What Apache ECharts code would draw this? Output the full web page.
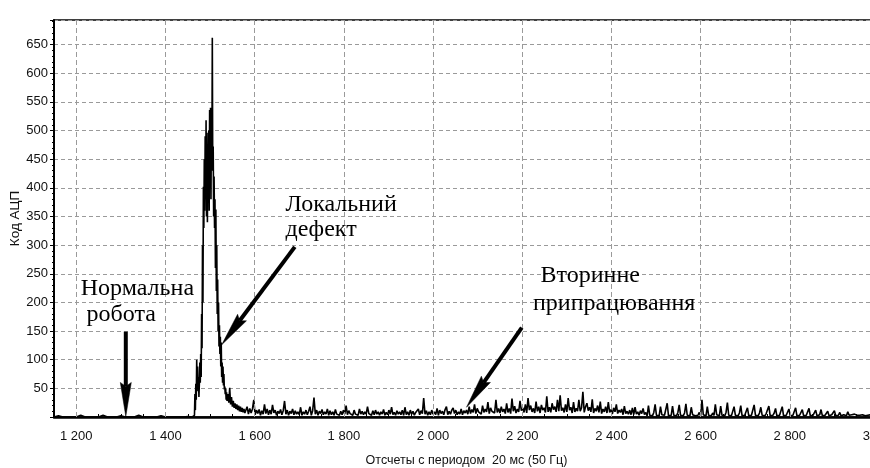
<!DOCTYPE html>
<html>
<head>
<meta charset="utf-8">
<script src="https://cdn.jsdelivr.net/npm/echarts@6/dist/echarts.min.js"></script>
<style>
html,body{margin:0;padding:0;background:#fff;}
#c{width:870px;height:468px;}
</style>
</head>
<body>
<div id="c"></div>
<script>
// ---- data (x = sample number, y = ADC code) ----
const segStart = [1150, 1460, 1540, 1580, 1940, 2300, 2660];
const segStep  = [10, 1, 2, 3, 3, 3, 3];
const baseline = [0,2,0,0,0,0,3,0,0,0, 0,3,0,0,0,2,0,0,0,3, 0,0,0,0,2,0,0,0,0,0, 1];
const peak = [0,1,0,2,1,3,40,12,58,30,
  100,60,88,45,70,35,60,95,60,110,
  70,180,120,300,200,402,330,450,360,490,
  380,518,350,496,340,470,400,500,360,536,
  420,540,380,520,440,662,430,472,350,420,
  330,380,260,362,220,300,180,240,150,200,
  123,160,110,140,88,130,70,95,60,88,
  55,75,48,53,40,50,30,43,28,35];
const tail = [40,25,51,22,35,18,28,16,24,14,22,12,20,10,18,9,16,8,14,7];
const noiseA = [8,18,5,15,7,14,30,4,12,6, 13,3,11,5,22,6,14,4,12,5,
  21,7,12,3,10,6,13,4,11,28, 5,12,3,10,6,14,4,11,5,9,
  4,17,3,9,5,12,4,10,18,3, 11,34,5,12,3,10,6,13,4,9,
  5,14,3,11,4,9,3,13,5,8, 3,10,4,12,5,20,4,11,6,9,
  3,12,5,8,3,14,5,10,4,9, 5,18,6,8,3,11,4,12,5,9,
  3,9,5,13,3,8,4,12,5,17, 4,8,3,11,5,9,4,12,3,17];
const noiseB = [4,9,3,12,5,10,3,8,5,14, 4,11,6,33,5,11,3,9,4,12,
  5,9,4,15,3,12,6,10,4,13, 18,4,10,5,12,16,6,12,4,9,
  5,14,4,11,7,12,5,18,6,13, 8,22,6,15,9,12,5,20,8,14,
  9,26,6,16,10,13,7,30,8,15, 7,18,9,14,6,24,8,15,6,32,
  10,19,7,14,9,28,11,16,8,22, 7,33,12,20,9,15,7,27,10,18,
  7,21,12,16,8,36,9,17,8,24, 13,18,9,30,10,38,11,16,8,22];
const noiseC = [9,33,12,17,7,26,9,15,10,30, 10,16,44,8,18,24,11,17,9,31,
  7,15,10,20,8,27,6,14,9,18, 7,26,8,13,5,16,9,22,6,12,
  8,14,4,19,6,10,5,12,4,16, 4,17,5,9,3,11,6,15,4,8,
  2,20,3,6,2,8,22,3,5,2, 18,4,7,3,6,24,2,5,3,19,
  3,6,2,8,21,3,5,2,7,23, 3,5,2,17,4,6,2,5,3,8,
  2,30,4,6,2,18,3,5,2,7, 3,22,4,6,2,19,3,5,2,8];
const noiseD = [25,3,6,2,5,18,3,6,2,7, 20,2,5,3,6,16,2,4,3,6,
  21,3,5,2,7,17,3,5,2,6, 3,19,2,5,3,7,15,2,4,3,
  6,18,2,4,3,5,14,2,4,3, 5,16,2,4,3,6,13,2,4,3,
  5,15,2,4,3,5,12,2,3,4, 13,2,4,3,5,10,2,3,4,3,
  11,2,4,3,8,2,3,4,3,2, 9,3,2,4,3,5,2,3,4,3,
  2,4,3,2,4,3,2,4];
const segValues = [baseline, peak, tail, noiseA, noiseB, noiseC, noiseD];

const xTicksLabelled = [1200,1400,1600,1800,2000,2200,2400,2600,2800,3000];

// annotations (data coordinates)
const noteTexts = ['Нормальна','робота','Локальний','дефект','Вторинне','припрацювання'];
const noteX = [1210,1223,1669,1669,2241,2224];
const noteY = [224,179,370,327,246,198];
const arrowTail = [[1311,149],[1690,297],[2199,156]];
const arrowTip  = [[1311,1],[1526,126],[2075,17]];

// ---- build ----
const seriesData = [];
segValues.forEach((vals, i) => {
  vals.forEach((v, k) => seriesData.push([segStart[i] + k * segStep[i], v]));
});

function thousands(v){ return String(v).replace(/\B(?=(\d{3})+(?!\d))/g, ' '); }

const sans = '"Liberation Sans",Arial,sans-serif';
const chart = echarts.init(document.getElementById('c'), null, {renderer:'canvas'});
chart.setOption({
  animation: false,
  backgroundColor: '#fff',
  grid: {left: 54, right: -9, top: 20, bottom: 51, containLabel: false, outerBoundsMode: 'none',
         show: true, borderColor: '#000', borderWidth: 1.5, backgroundColor: 'transparent'},
  xAxis: {
    type: 'value', min: 1150, max: 3000, interval: 50,
    name: 'Отсчеты с периодом  20 мс (50 Гц)', nameLocation: 'middle', nameGap: 37,
    nameMoveOverlap: false,
    nameTextStyle: {fontFamily: sans, fontSize: 12.5, color: '#111'},
    axisLine: {show: true, onZero: false, lineStyle: {color: '#000', width: 2.5}},
    axisTick: {show: true, inside: true, length: 3, lineStyle: {color: '#000', width: 1}},
    axisLabel: {margin: 13, fontFamily: sans, fontSize: 13, color: '#111',
      formatter: v => (v % 200 === 0 ? thousands(v) : '')},
    splitLine: {show: false}
  },
  yAxis: {
    type: 'value', min: 0, max: 693, interval: 50,
    name: 'Код АЦП', nameLocation: 'middle', nameGap: 32, nameMoveOverlap: false,
    nameTextStyle: {fontFamily: sans, fontSize: 13.5, color: '#111'},
    axisLine: {show: true, lineStyle: {color: '#000', width: 2}},
    axisTick: {show: true, inside: false, length: 4, lineStyle: {color: '#000', width: 1}},
    minorTick: {show: true, splitNumber: 5, length: 2, lineStyle: {color: '#000', width: 1}},
    axisLabel: {margin: 6, fontFamily: sans, fontSize: 13, color: '#111',
      formatter: v => (v > 0 && v % 50 === 0 ? String(v) : '')},
    splitLine: {show: true, lineStyle: {color: '#9a9a9a', width: 1, type: [4, 3]}}
  },
  series: [
    {
      type: 'line', data: [], z: 1, silent: true,
      markLine: {
        silent: true, symbol: 'none', label: {show: false}, animation: false,
        lineStyle: {color: '#9a9a9a', width: 1, type: [5, 3]},
        emphasis: {disabled: true},
        data: xTicksLabelled.map(v => ({xAxis: v}))
      }
    },
    {
      type: 'line', data: seriesData, z: 3, symbol: 'none', showSymbol: false,
      sampling: false, silent: true,
      lineStyle: {color: '#000', width: 1.6}
    }
  ]
});

// annotations placed through the chart's own scales
const graphics = [];
noteTexts.forEach((t, i) => {
  const p = chart.convertToPixel({gridIndex: 0}, [noteX[i], noteY[i]]);
  graphics.push({type: 'text', z: 10, silent: true, x: p[0], y: p[1],
    style: {text: t, fill: '#000', font: '24px "Liberation Serif","Times New Roman",serif',
            align: 'left', verticalAlign: 'middle'}});
});
arrowTail.forEach((tl, i) => {
  const S = chart.convertToPixel({gridIndex: 0}, tl);
  const T = chart.convertToPixel({gridIndex: 0}, arrowTip[i]);
  const dx = T[0] - S[0], dy = T[1] - S[1];
  const len = Math.hypot(dx, dy), ux = dx / len, uy = dy / len;
  const L = 34, W = 11;
  const B = [T[0] - ux * L, T[1] - uy * L];
  const nx = -uy, ny = ux;
  graphics.push({type: 'line', z: 10, silent: true,
    shape: {x1: S[0], y1: S[1], x2: B[0] + ux * 4, y2: B[1] + uy * 4},
    style: {stroke: '#000', lineWidth: 4}});
  graphics.push({type: 'polygon', z: 10, silent: true,
    shape: {points: [T, [B[0] + nx * W / 2, B[1] + ny * W / 2], [B[0] + ux * 4, B[1] + uy * 4],
                     [B[0] - nx * W / 2, B[1] - ny * W / 2]]},
    style: {fill: '#000', stroke: '#000', lineWidth: 0.5}});
});
chart.setOption({graphic: graphics});
</script>
</body>
</html>
